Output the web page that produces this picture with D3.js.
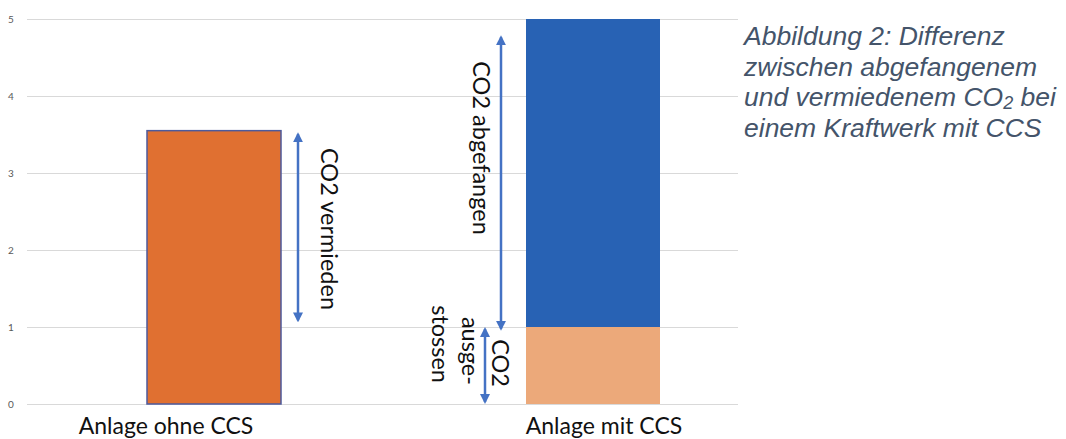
<!DOCTYPE html>
<html>
<head>
<meta charset="utf-8">
<script src="https://cdn.jsdelivr.net/npm/d3@7"></script>
<style>
  html, body { margin: 0; padding: 0; background: #fff; }
  svg { display: block; }
</style>
</head>
<body>
<svg id="chart" width="1066" height="439"></svg>
<script>
// Categories and stacked values (Mt CO2 per plant)
const categories = ["Anlage ohne CCS", "Anlage mit CCS"];
const emitted   = [3.55, 1];   // lower segment: CO2 released
const captured  = [0, 4];      // upper segment: CO2 captured
const yTicks    = [0, 1, 2, 3, 4, 5];

const captionLines = [
  ["Abbildung 2: Differenz"],
  ["zwischen abgefangenem"],
  ["und vermiedenem CO", "2", " bei"],
  ["einem Kraftwerk mit CCS"]
];

const svg = d3.select("#chart");

const y = d3.scaleLinear().domain([0, 5]).range([404, 19]);
const x = d3.scalePoint().domain(categories).range([24.5, 782.5]).padding(0.5);
const barW = 134;

// gridlines
const grid = svg.append("g");
grid.selectAll("line").data(yTicks).join("line")
  .attr("x1", 27).attr("x2", 738)
  .attr("y1", d => y(d) + 0.5).attr("y2", d => y(d) + 0.5)
  .attr("stroke", "#d9d9d9").attr("stroke-width", 1);

// y axis labels
const yAxis = d3.axisLeft(y).tickValues(yTicks).tickSize(0).tickPadding(0).tickFormat(d3.format("d"));
const ga = svg.append("g").attr("transform", "translate(14,0)").call(yAxis);
ga.select(".domain").remove();
ga.selectAll("text")
  .attr("font-family", "Lato, 'Open Sans', sans-serif")
  .attr("font-size", 10)
  .attr("fill", "#595959")
  .attr("text-anchor", "middle")
  .attr("x", -3);

// bars
const lowColors = ["#e07031", "#eca97a"];
const bars = svg.append("g");
categories.forEach((c, i) => {
  const cx = x(c);
  bars.append("rect")
    .attr("x", cx - barW / 2)
    .attr("width", barW)
    .attr("y", y(emitted[i]))
    .attr("height", y(0) - y(emitted[i]))
    .attr("fill", lowColors[i])
    .attr("stroke", i === 0 ? "#4d5a9c" : "none")
    .attr("stroke-width", 1.5);
  if (captured[i] > 0) {
    bars.append("rect")
      .attr("x", cx - barW / 2)
      .attr("width", barW)
      .attr("y", y(emitted[i] + captured[i]))
      .attr("height", y(emitted[i]) - y(emitted[i] + captured[i]))
      .attr("fill", "#2862b4");
  }
});

// category labels
const catFont = "Lato, 'Open Sans', sans-serif";
const catOffset = [-48, 11];
svg.append("g").selectAll("text").data(categories).join("text")
  .attr("x", (d, i) => x(d) + catOffset[i])
  .attr("y", 434)
  .attr("text-anchor", "middle")
  .attr("font-family", catFont)
  .attr("font-size", 23)
  .attr("fill", "#111")
  .text(d => d);

// double-headed arrows
const defs = svg.append("defs");
defs.append("marker").attr("id", "head")
  .attr("viewBox", "0 0 10 10").attr("refX", 8).attr("refY", 5)
  .attr("markerWidth", 4).attr("markerHeight", 4)
  .attr("markerUnits", "strokeWidth")
  .attr("orient", "auto-start-reverse")
  .append("path").attr("d", "M0,0 L10,5 L0,10 Z").attr("fill", "#4472c4");

const arrows = [
  { x: 298, from: 3.53, to: 1.06 },
  { x: 501, from: 4.79, to: 0.95 },
  { x: 485, from: 1.0,  to: 0.0 }
];
svg.append("g").selectAll("line").data(arrows).join("line")
  .attr("x1", d => d.x).attr("x2", d => d.x)
  .attr("y1", d => y(d.from) + 2).attr("y2", d => y(d.to) - 2)
  .attr("stroke", "#4472c4").attr("stroke-width", 2.5)
  .attr("marker-start", "url(#head)")
  .attr("marker-end", "url(#head)");

// rotated annotation text
const notes = [
  { text: "CO2 vermieden",  x: 321, y: 229, anchor: "middle" },
  { text: "CO2 abgefangen", x: 473, y: 148, anchor: "middle" },
  { text: "CO2",            x: 492, y: 387, anchor: "end" },
  { text: "ausge-",         x: 462, y: 385, anchor: "end" },
  { text: "stossen",        x: 432, y: 383, anchor: "end" }
];
svg.append("g").selectAll("text").data(notes).join("text")
  .attr("transform", d => `translate(${d.x},${d.y}) rotate(90)`)
  .attr("text-anchor", d => d.anchor)
  .attr("font-family", catFont)
  .attr("font-size", 23.5)
  .attr("fill", "#111")
  .text(d => d.text);

// caption
const cap = svg.append("text")
  .attr("font-family", "'Liberation Sans', Arial, sans-serif")
  .attr("font-style", "italic")
  .attr("font-size", 26.5)
  .attr("fill", "#44546a");
captionLines.forEach((parts, i) => {
  const line = cap.append("tspan").attr("x", 744).attr("y", 45 + i * 30.5);
  parts.forEach((p, j) => {
    const t = j === 0 ? line : cap.append("tspan");
    if (j === 0) { t.text(p); return; }
    if (j === 1) t.attr("font-size", 18).attr("dy", 3).text(p);
    else t.attr("dy", -3).text(p);
  });
});
</script>
</body>
</html>
